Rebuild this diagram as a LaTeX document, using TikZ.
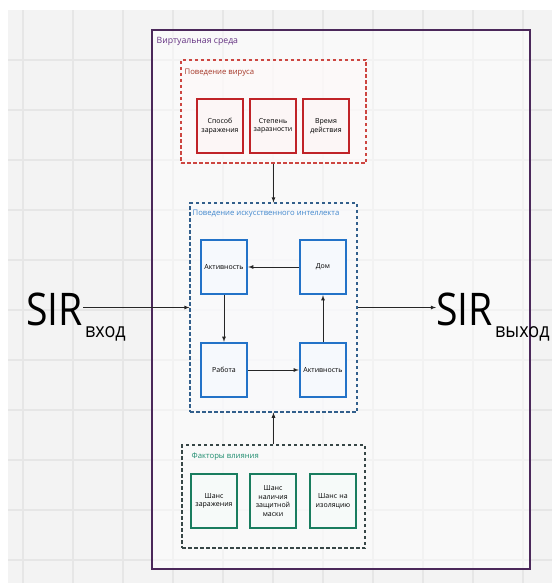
\documentclass[tikz,border=0pt]{standalone}
\usepackage{fontspec}
\setmainfont{Open Sans}
\usepackage{tikz}
\usetikzlibrary{arrows,positioning,calc}
\definecolor{myback}{RGB}{243,243,243}
\definecolor{mygrid}{RGB}{230,230,230}
\definecolor{mypurple}{RGB}{75,40,90}
\definecolor{mypurpletext}{RGB}{100,50,130}
\definecolor{myred}{RGB}{192,35,40}
\definecolor{myreddash}{RGB}{205,70,65}
\definecolor{myredtext}{RGB}{165,55,40}
\definecolor{myblue}{RGB}{35,115,200}
\definecolor{mybluedash}{RGB}{50,95,140}
\definecolor{mybluetext}{RGB}{65,135,205}
\definecolor{mygreen}{RGB}{25,125,95}
\definecolor{mygreendash}{RGB}{55,70,70}
\definecolor{mygreentext}{RGB}{30,140,110}

\begin{document}
\begin{tikzpicture}[
  x=1pt,
  y=-1pt,
  font=\fontsize{7}{8.5}\selectfont,
  mybox/.style={
    draw=#1,
    line width=2.4pt,
    fill=white!96!#1,
    minimum width=46pt,
    minimum height=54pt,
    inner sep=1pt,
    text width=44pt,
    align=center
    },
  mygroup/.style={
    draw=#1,
    line width=1.1pt,
    dash pattern=on 3.5pt off 2.5pt,
    fill=white!97!#1,
    fill opacity=0.6,
    inner sep=0pt
    },
  mylabel/.style={
    anchor=north west,
    inner sep=0pt,
    font=\fontsize{7.7}{9}\selectfont,
    text=#1
    },
  myarrow/.style={
    -latex,
    line width=0.8pt,
    black!85
    },
  mysir/.style={
    anchor=base west,
    inner sep=0pt
    }
]
\useasboundingbox (0,0) rectangle (552,583);
\fill[myback] (8,10) rectangle (552,583);
\foreach \gx in {23,73,...,552}
  \draw[mygrid, line width=1.5pt] (\gx,10) -- (\gx,583);
\foreach \gy in {60,110,...,583}
  \draw[mygrid, line width=1.5pt] (8,\gy) -- (552,\gy);

% virtual environment
\node[draw=mypurple, line width=1.1pt, fill=white, fill opacity=0.5, minimum width=378pt, minimum height=539pt, inner sep=0pt]
  (virt) at (341,299.5) {};
\node[mylabel=mypurpletext, font=\fontsize{8.7}{10}\selectfont, below right=8pt and 5pt] at (virt.north west) (virtlabel) {Виртуальная среда};

% virus behaviour
\node[mygroup=myreddash, minimum width=185pt, minimum height=103pt] (virus) at (273.5,111.5) {};
\node[mylabel=myredtext, below right=9pt and 4pt] at (virus.north west) (viruslabel) {Поведение вируса};
\node[mybox=myred] (v1) at (220,126) {Способ\\заражения};
\node[mybox=myred] (v2) at (273,126) {Степень\\заразности};
\node[mybox=myred] (v3) at (326,126) {Время\\действия};

% AI behaviour
\node[mygroup=mybluedash, minimum width=167pt, minimum height=209pt] (ai) at (273.5,307.5) {};
\node[mylabel=mybluetext, below right=7pt and 3pt] at (ai.north west) (ailabel) {Поведение искусственного интеллекта};
\node[mybox=myblue] (act1) at (224,267) {Активность};
\node[mybox=myblue] (home) at (323,267) {Дом};
\node[mybox=myblue] (work) at (224,370) {Работа};
\node[mybox=myblue] (act2) at (323,370) {Активность};

\draw[myarrow] (home) -- (act1);
\draw[myarrow] (act1) -- (work);
\draw[myarrow] (work) -- (act2);
\draw[myarrow] (act2) -- (home);

% influence factors
\node[mygroup=mygreendash, minimum width=183pt, minimum height=103pt] (factors) at (273.5,496.5) {};
\node[mylabel=mygreentext, below right=8pt and 10pt] at (factors.north west) (factorslabel) {Факторы влияния};
\node[mybox=mygreen] (f1) at (214,501) {Шанс\\заражения};
\node[mybox=mygreen] (f2) at (273,501) {Шанс\\наличия\\защитной\\маски};
\node[mybox=mygreen] (f3) at (333,501) {Шанс на\\изоляцию};

\draw[myarrow] (virus.south) -- (ai.north);
\draw[myarrow] (factors.north) -- (ai.south);

% input and output
\node[mysir, font=\fontsize{45}{45}\selectfont] (sirin) at (26,325) {\scalebox{0.87}[1]{SIR}};
\node[mysir, font=\fontsize{20}{20}\selectfont] (sirinsub) at ($(sirin.base east)+(2,12)$) {\scalebox{0.9}[1]{вход}};
\node[mysir, font=\fontsize{45}{45}\selectfont] (sirout) at (436,325) {\scalebox{0.87}[1]{SIR}};
\node[mysir, font=\fontsize{20}{20}\selectfont] (siroutsub) at ($(sirout.base east)+(2,12)$) {\scalebox{0.9}[1]{выход}};

\draw[myarrow] (sirin.east |- ai.west) -- (ai.west);
\draw[myarrow] (ai.east) -- (sirout.west |- ai.east);

\end{tikzpicture}
\end{document}
